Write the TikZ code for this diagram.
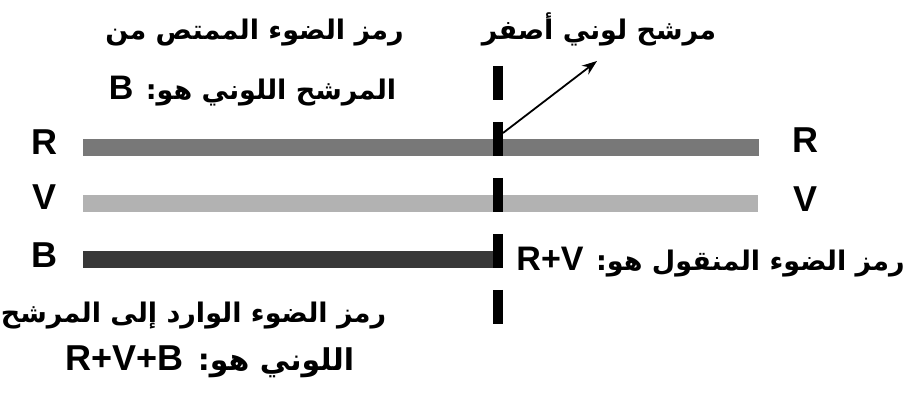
\documentclass[tikz,border=0pt]{standalone}
\usepackage{fontspec}
\setmainfont{Liberation Sans}
\newfontfamily\arabicfont[Script=Arabic]{DejaVu Sans}
\newfontfamily\latinfont{Liberation Sans}
\TeXXeTstate=1
\usetikzlibrary{arrows.meta}
\definecolor{rgray}{HTML}{787878}
\definecolor{vgray}{HTML}{B2B2B2}
\definecolor{bgray}{HTML}{383838}
\tikzset{
  bar/.style={fill=#1, draw=none, inner sep=0pt, minimum height=17pt, anchor=west},
  lab/.style={font=\latinfont\bfseries\fontsize{36}{40}\selectfont, inner sep=0pt, anchor=base},
  ar/.style={font=\arabicfont\bfseries\fontsize{27}{32}\selectfont, inner sep=0pt, anchor=base},
  arbig/.style={ar, font=\arabicfont\bfseries\fontsize{30}{34}\selectfont},
}
\newcommand{\LT}[1]{\beginL{\latinfont\bfseries\fontsize{34}{38}\selectfont #1}\endL{}}
\newcommand{\LTB}[1]{\beginL{\latinfont\bfseries\fontsize{36}{40}\selectfont #1}\endL{}}
\begin{document}
\begin{tikzpicture}[x=1pt,y=-1pt]
\useasboundingbox (0,0) rectangle (908,398);
% bars
\node[bar=rgray, minimum width=676pt] (rbar) at (83,147.5) {};
\node[bar=vgray, minimum width=675pt] (vbar) at (83,203.5) {};
\node[bar=bgray, minimum width=410pt] (bbar) at (83,260) {};
% filter
\coordinate (ftop) at (498,66);
\coordinate (fbot) at (498,324);
\draw[line width=10pt, dash pattern=on 34pt off 22pt] (ftop) -- (fbot);
% labels
\node[lab] (rl) at (44.5,155) {R};
\node[lab] (vl) at (44.5,210) {V};
\node[lab] (bl) at (44.5,268) {B};
\node[lab] (rr) at (805.5,153) {R};
\node[lab] (vr) at (805.5,212) {V};
% texts
\node[ar] (t1) at (254.5,40) {\beginR رمز الضوء الممتص من\endR};
\node[ar] (t2) at (252.5,100) {\beginR المرشح اللوني هو: \LT{B}\endR};
\node[ar] (t3) at (599,40) {\beginR مرشح لوني أصفر\endR};
\node[ar, anchor=base east] (t4) at (905,270) {\beginR رمز الضوء المنقول هو: \LT{R+V}\endR};
\node[ar] (t5) at (193.5,322) {\beginR رمز الضوء الوارد إلى المرشح\endR};
\node[arbig] (t6) at (210,370) {\beginR اللوني هو: \LTB{R+V+B}\endR};
% arrow
\coordinate (astart) at (503,133);
\coordinate (aend) at (597,61);
\draw[line width=1.8pt, -{Stealth[length=15pt,width=11pt]}] (astart) -- (aend);
\end{tikzpicture}
\end{document}
